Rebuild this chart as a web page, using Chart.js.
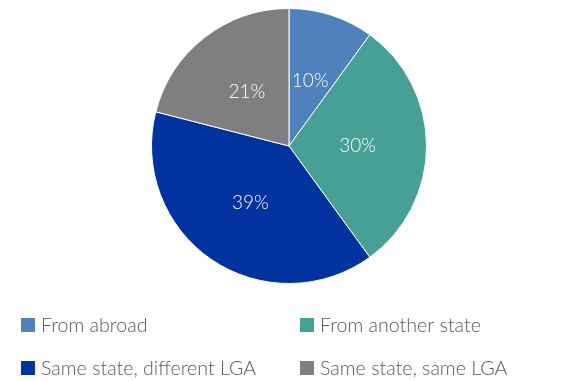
<!DOCTYPE html>
<html>
<head>
<meta charset="utf-8">
<script src="https://cdn.jsdelivr.net/npm/chart.js@4/dist/chart.umd.min.js"></script>
<style>
  html, body { margin: 0; padding: 0; background: #fff; }
  #wrap { width: 561px; height: 381px; position: relative; }
</style>
</head>
<body>
<div id="wrap"><canvas id="c" width="561" height="381"></canvas></div>
<script>
// Origin of residents, share in percent
const categories = ['From abroad', 'From another state', 'Same state, different LGA', 'Same state, same LGA'];
const shares = [10, 30, 39, 21];
const sliceColors = ['#4F81BD', '#46A096', '#0033A0', '#7F7F7F'];

const FONT = 'Lato, "Open Sans", sans-serif';

// Percentage labels placed halfway along each slice's radius
const sliceLabels = {
  id: 'sliceLabels',
  afterDatasetsDraw(chart) {
    const ctx = chart.ctx;
    const meta = chart.getDatasetMeta(0);
    const data = chart.data.datasets[0].data;
    ctx.save();
    ctx.font = '300 19px ' + FONT;
    ctx.fillStyle = '#ffffff';
    ctx.textAlign = 'center';
    ctx.textBaseline = 'middle';
    meta.data.forEach((arc, i) => {
      const p = arc.getProps(['x', 'y', 'startAngle', 'endAngle', 'outerRadius'], true);
      const mid = (p.startAngle + p.endAngle) / 2;
      const r = p.outerRadius * 0.5;
      ctx.fillText(data[i] + '%', p.x + Math.cos(mid) * r, p.y + Math.sin(mid) * r);
    });
    ctx.restore();
  }
};

// Two-column legend under the pie
const gridLegend = {
  id: 'gridLegend',
  afterDraw(chart) {
    const ctx = chart.ctx;
    const labels = chart.data.labels;
    const colors = chart.data.datasets[0].backgroundColor;
    const colX = [21, 300];
    const rowY = [325, 368];
    ctx.save();
    ctx.font = '300 19.6px ' + FONT;
    ctx.textBaseline = 'middle';
    ctx.textAlign = 'left';
    labels.forEach((lab, i) => {
      const x = colX[i % 2];
      const y = rowY[Math.floor(i / 2)];
      ctx.fillStyle = colors[i];
      ctx.fillRect(x, y - 7, 14, 14);
      ctx.fillStyle = '#595959';
      ctx.fillText(lab, x + 20, y + 1);
    });
    ctx.restore();
  }
};

new Chart(document.getElementById('c'), {
  type: 'pie',
  data: {
    labels: categories,
    datasets: [{
      data: shares,
      backgroundColor: sliceColors,
      borderColor: '#ffffff',
      borderWidth: 1
    }]
  },
  options: {
    responsive: false,
    animation: false,
    layout: { padding: { top: 8, bottom: 97, left: 17, right: 0 } },
    plugins: {
      legend: { display: false },
      tooltip: { enabled: false }
    }
  },
  plugins: [sliceLabels, gridLegend]
});
</script>
</body>
</html>
